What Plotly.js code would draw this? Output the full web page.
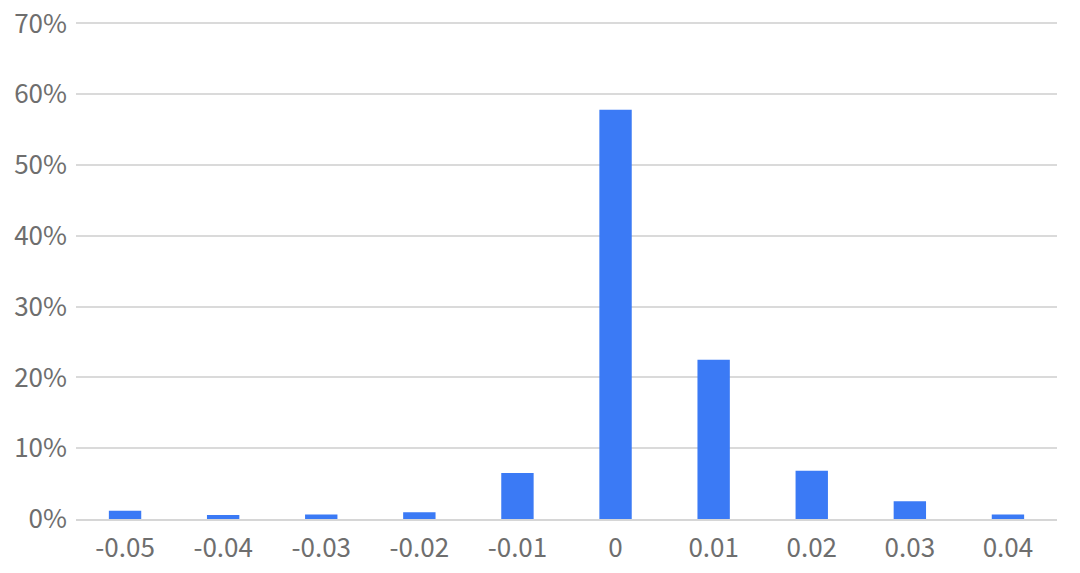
<!DOCTYPE html>
<html>
<head>
<meta charset="utf-8">
<script src="https://cdn.plot.ly/plotly-3.0.1.min.js"></script>
<style>html,body{margin:0;padding:0;background:#fff;}#chart{width:1080px;height:573px;}</style>
</head>
<body>
<div id="chart"></div>
<script>
const categories = ["-0.05", "-0.04", "-0.03", "-0.02", "-0.01", "0", "0.01", "0.02", "0.03", "0.04"];
const shares = [1.15, 0.55, 0.65, 0.95, 6.5, 57.8, 22.5, 6.8, 2.5, 0.65];
const yTicks = [0, 10, 20, 30, 40, 50, 60, 70];
const yTickLabels = yTicks.map(v => v + '%');

Plotly.newPlot('chart', [{
  type: 'bar',
  x: categories,
  y: shares,
  marker: {color: '#3b7af5'},
  width: 0.33,
  hoverinfo: 'x+y'
}], {
  width: 1080, height: 573,
  margin: {l: 76, r: 23, t: 22, b: 54},
  paper_bgcolor: '#ffffff', plot_bgcolor: '#ffffff',
  font: {family: '"Noto Sans CJK SC", "Noto Sans", sans-serif', size: 26, color: '#6e6e6e'},
  showlegend: false,
  xaxis: {
    type: 'category',
    showgrid: false, zeroline: false,
    showline: true, linecolor: '#d6d6d6', linewidth: 2,
    ticks: '', ticklen: 0, ticklabelstandoff: 5,
    tickfont: {size: 26, color: '#6e6e6e'}
  },
  yaxis: {
    range: [0, 70.2],
    tickmode: 'array',
    tickvals: yTicks,
    ticktext: yTickLabels,
    showgrid: true, gridcolor: '#dadada', gridwidth: 2,
    zeroline: false, showline: false,
    ticks: '', ticklabelstandoff: 8,
    tickfont: {size: 26, color: '#6e6e6e'}
  }
}, {displayModeBar: false, staticPlot: true});
</script>
</body>
</html>
